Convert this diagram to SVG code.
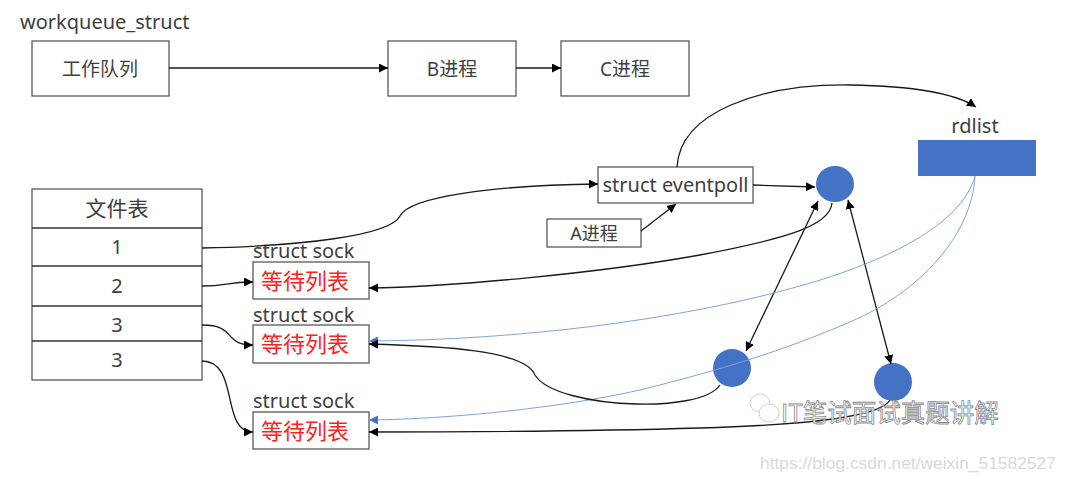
<svg xmlns="http://www.w3.org/2000/svg" width="1067" height="482" viewBox="0 0 1067 482">
<style>
  .box { fill: #fff; stroke: #595959; stroke-width: 1.3; }
  .t { font-family: "Noto Sans", "Noto Sans CJK SC", sans-serif; fill: #404040; }
  .red { font-family: "Noto Sans CJK SC", sans-serif; fill: #ff2020; font-size: 22px; }
  .dot { fill: #4472C4; }
  .c { fill: none; stroke: #1a1a1a; stroke-width: 1.3; }
  .b { fill: none; stroke: #7fa3e0; stroke-width: 1; }
</style>
<defs>
  <marker id="ah" viewBox="0 0 10 10" refX="10" refY="5" markerWidth="9" markerHeight="9" markerUnits="userSpaceOnUse" orient="auto-start-reverse">
    <path d="M0,0 L10,5 L0,10 Z" fill="#000"/>
  </marker>
  <marker id="ahb" viewBox="0 0 10 10" refX="10" refY="5" markerWidth="9" markerHeight="9" markerUnits="userSpaceOnUse" orient="auto">
    <path d="M0,0 L10,5 L0,10 Z" fill="#4472C4"/>
  </marker>
</defs>
<rect width="1067" height="482" fill="#fff"/>

<g id="workqueue">
  <text class="t" x="20" y="29" font-size="20">workqueue_struct</text>
  <rect class="box" x="32" y="41" width="137" height="55"/>
  <text class="t" x="100" y="76" font-size="19" text-anchor="middle">工作队列</text>
</g>
<g id="procB">
  <rect class="box" x="388" y="41" width="128" height="55"/>
  <text class="t" x="452" y="76" font-size="19" text-anchor="middle">B进程</text>
</g>
<g id="procC">
  <rect class="box" x="561" y="41" width="128" height="55"/>
  <text class="t" x="625" y="76" font-size="19" text-anchor="middle">C进程</text>
</g>

<g id="rdlist">
  <text class="t" x="975" y="133" font-size="20" text-anchor="middle">rdlist</text>
  <rect class="dot" x="918" y="140" width="118" height="36"/>
</g>

<g id="eventpoll">
  <rect class="box" x="598" y="167" width="155" height="36"/>
  <text class="t" x="675.5" y="192" font-size="20" text-anchor="middle">struct eventpoll</text>
</g>
<g id="procA">
  <rect class="box" x="547" y="219" width="94" height="28"/>
  <text class="t" x="594" y="240" font-size="18" text-anchor="middle">A进程</text>
</g>

<g id="filetable">
  <rect class="box" x="32" y="189" width="170" height="191"/>
  <line x1="32" y1="228" x2="202" y2="228" stroke="#333" stroke-width="1.5"/>
  <line x1="32" y1="266" x2="202" y2="266" stroke="#333" stroke-width="1.3"/>
  <line x1="32" y1="306" x2="202" y2="306" stroke="#333" stroke-width="1.3"/>
  <line x1="32" y1="341" x2="202" y2="341" stroke="#333" stroke-width="1.3"/>
  <text class="t" x="117" y="216" font-size="21" text-anchor="middle">文件表</text>
  <text class="t" x="117" y="254" font-size="20" text-anchor="middle">1</text>
  <text class="t" x="117" y="293" font-size="20" text-anchor="middle">2</text>
  <text class="t" x="117" y="332" font-size="20" text-anchor="middle">3</text>
  <text class="t" x="117" y="367" font-size="20" text-anchor="middle">3</text>
</g>

<g id="sock1">
  <text class="t" x="253" y="258" font-size="20">struct sock</text>
  <rect class="box" x="253" y="262" width="116" height="37"/>
  <text class="red" x="261" y="289">等待列表</text>
</g>
<g id="sock2">
  <text class="t" x="253" y="322" font-size="20">struct sock</text>
  <rect class="box" x="253" y="325" width="116" height="38"/>
  <text class="red" x="261" y="352">等待列表</text>
</g>
<g id="sock3">
  <text class="t" x="253" y="408" font-size="20">struct sock</text>
  <rect class="box" x="253" y="412" width="116" height="37"/>
  <text class="red" x="261" y="439">等待列表</text>
</g>

<g id="circle1"><ellipse class="dot" cx="835" cy="184" rx="19" ry="18"/></g>
<g id="circle2"><ellipse class="dot" cx="732" cy="368" rx="19" ry="19"/></g>
<g id="circle3"><ellipse class="dot" cx="893" cy="382" rx="19" ry="19"/></g>

<g id="connectors">
  <path class="c" d="M169,68 L388,68" marker-end="url(#ah)"/>
  <path class="c" d="M516,68 L561,68" marker-end="url(#ah)"/>
  <path class="c" d="M677,167 C680,112 760,84 850,85 C910,86 955,93 976,107" marker-end="url(#ah)"/>
  <path class="c" d="M202,248 C300,246 390,236 400,216 C410,196 500,185 598,184" marker-end="url(#ah)"/>
  <path class="c" d="M641,231 L676,204" marker-end="url(#ah)"/>
  <path class="c" d="M753,185 L815,187" marker-end="url(#ah)"/>
  <path class="c" d="M832,203 C830,225 790,238 700,255 C600,273 450,287 369,288" marker-end="url(#ah)"/>
  <path class="c" d="M818,201 L746,351" marker-start="url(#ah)" marker-end="url(#ah)"/>
  <path class="c" d="M848,200 L891,364" marker-start="url(#ah)" marker-end="url(#ah)"/>
  <path class="b" d="M975,176 C962,225 885,262 800,286 C680,320 520,340 369,341" marker-end="url(#ahb)"/>
  <path class="b" d="M975,176 C972,235 920,292 850,322 C780,352 720,370 640,390 C560,408 450,419 369,420" marker-end="url(#ahb)"/>
  <path class="c" d="M720,385 C710,400 670,405 637,404 C590,403 545,392 535,375 C525,350 440,346 369,344" marker-end="url(#ah)"/>
  <path class="c" d="M890,400 C880,418 800,425 700,428 C600,431 450,432 369,432" marker-end="url(#ah)"/>
  <path class="c" d="M202,286 C228,286 225,282 253,282" marker-end="url(#ah)"/>
  <path class="c" d="M202,325 C238,325 222,345 253,345" marker-end="url(#ah)"/>
  <path class="c" d="M202,361 C240,361 220,432 253,432" marker-end="url(#ah)"/>
</g>

<g id="watermark">
  <ellipse cx="760" cy="403" rx="10" ry="9" fill="#fff" stroke="#d0d0d0" stroke-width="1"/>
  <ellipse cx="769" cy="413" rx="10" ry="9" fill="#fff" stroke="#d0d0d0" stroke-width="1"/>
  <text x="781" y="422" font-family="Noto Sans CJK SC, sans-serif" font-size="24.5" fill="#fff" stroke="#8c8c8c" stroke-width="0.8">IT笔试面试真题讲解</text>
  <text x="760" y="469" font-family="Liberation Sans, sans-serif" font-size="17.4" fill="#d9d9d9">https://blog.csdn.net/weixin_51582527</text>
</g>
</svg>
